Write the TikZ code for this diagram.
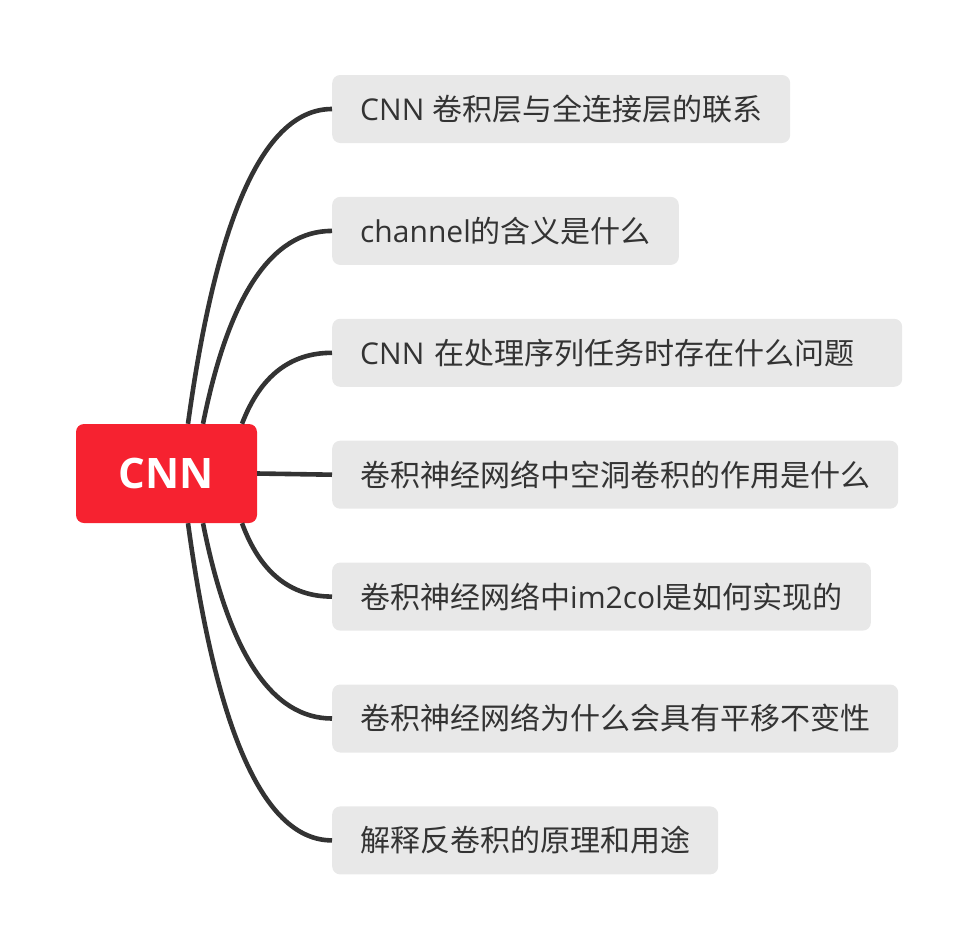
\documentclass[tikz,border=0pt]{standalone}
\usepackage{fontspec}
\setmainfont{Open Sans}
\newfontfamily\cjk{Noto Sans CJK SC}
\usepackage{tikz}
\usetikzlibrary{positioning, calc}

\definecolor{cnnred}{HTML}{F62230}
\definecolor{itemgray}{HTML}{E8E8E8}
\definecolor{inkgray}{HTML}{333333}

\begin{document}
\begin{tikzpicture}[
  x=1pt, y=1pt,
  root/.style   = {fill=cnnred, text=white, rounded corners=8pt, inner sep=0pt,
                   minimum width=181pt, minimum height=99pt,
                   font=\fontsize{42}{42}\selectfont\bfseries},
  item/.style   = {fill=itemgray, text=inkgray, rounded corners=8pt,
                   minimum height=68pt, inner xsep=28pt, inner ysep=0pt,
                   text height=26.5pt, text depth=3.6pt,
                   font=\fontsize{30}{30}\selectfont},
  branch/.style = {draw=inkgray, line width=4.6pt},
]
  \useasboundingbox (0,0) rectangle (978,-948);

  \node[root] (root) at (166.5,-473.5) {CNN};

  \node[item, anchor=west]                              (b1) at (332,-109) {CNN {\cjk 卷积层与全连接层的联系}};
  \node[item, below=53.5pt of b1.south west, anchor=north west] (b2) {channel{\cjk 的含义是什么}};
  \node[item, below=53.5pt of b2.south west, anchor=north west,
        text width=514pt, align=left]                   (b3) {CNN {\cjk 在处理序列任务时存在什么问题}};
  \node[item, below=53.5pt of b3.south west, anchor=north west] (b4) {\cjk 卷积神经网络中空洞卷积的作用是什么};
  \node[item, below=53.5pt of b4.south west, anchor=north west] (b5) {{\cjk 卷积神经网络中}im2col{\cjk 是如何实现的}};
  \node[item, below=53.5pt of b5.south west, anchor=north west] (b6) {\cjk 卷积神经网络为什么会具有平移不变性};
  \node[item, below=53.5pt of b6.south west, anchor=north west] (b7) {\cjk 解释反卷积的原理和用途};

  % where the curves leave the root box
  \coordinate (s1) at ([xshift=21.5pt]root.north);
  \coordinate (s2) at ([xshift=36.5pt]root.north);
  \coordinate (s3) at ([xshift=75.5pt]root.north);
  \coordinate (s5) at ([xshift=75.5pt]root.south);
  \coordinate (s6) at ([xshift=36.5pt]root.south);
  \coordinate (s7) at ([xshift=21.5pt]root.south);

  % branches
  \draw[branch] (root.east) -- (b4.west);
  \foreach \s/\b in {s1/b1, s2/b2, s3/b3, s5/b5, s6/b6, s7/b7}
    \draw[branch] let \p1=(\s), \p2=(\b.west) in
      (\s) .. controls ({\x1+0.2*(\x2-\x1)}, {\y1+2/3*(\y2-\y1)})
               and ({\x2-0.4667*(\x2-\x1)}, \y2) .. (\b.west);
\end{tikzpicture}
\end{document}
